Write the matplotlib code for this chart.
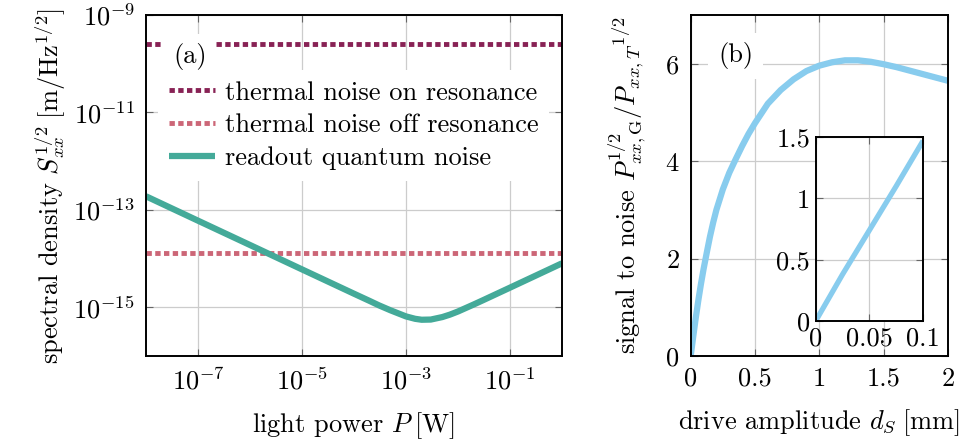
import matplotlib
matplotlib.use("Agg")
import matplotlib.pyplot as plt

plt.rcParams["font.family"] = "serif"
plt.rcParams["font.serif"] = ["cmr10"]
plt.rcParams["mathtext.fontset"] = "cm"
plt.rcParams["axes.formatter.use_mathtext"] = True
plt.rcParams["font.size"] = 19

# panel (a): noise levels
leistung = [1e-8, 1e-7, 1e-6, 1e-5, 1e-4, 2e-4, 3e-4, 5e-4, 1e-3, 1.5e-3, 2e-3,
            3e-3, 5e-3, 7e-3, 1e-2, 2e-2, 3e-2, 1e-1, 3e-1, 1.0]
kvantni_sum = [1.9e-13, 6.0e-14, 1.9e-14, 6.0e-15, 1.9e-15, 1.35e-15, 1.1e-15, 8.7e-16,
               6.5e-16, 5.8e-16, 5.55e-16, 5.6e-16, 6.3e-16, 7.07e-16, 8.2e-16, 1.14e-15,
               1.39e-15, 2.53e-15, 4.38e-15, 8.0e-15]
termicni_na_res = 2.6e-10
termicni_izven_res = 1.3e-14

# panel (b): signal to noise vs drive amplitude
amplituda = [0, 0.02, 0.04, 0.06, 0.08, 0.1, 0.125, 0.15, 0.175, 0.2, 0.25, 0.3, 0.35,
             0.4, 0.45, 0.5, 0.6, 0.7, 0.8, 0.9, 1.0, 1.1, 1.2, 1.3, 1.4, 1.5, 1.6,
             1.7, 1.8, 1.9, 2.0]
snr = [0, 0.4, 0.79, 1.15, 1.48, 1.78, 2.12, 2.45, 2.74, 3.0, 3.42, 3.76, 4.04,
       4.31, 4.56, 4.78, 5.18, 5.46, 5.68, 5.85, 5.96, 6.03, 6.07, 6.07, 6.04, 5.99, 5.93,
       5.86, 5.79, 5.72, 5.65]
amplituda_vstavek = [0, 0.025, 0.05, 0.075, 0.1]
snr_vstavek = [0, 0.38, 0.74, 1.1, 1.47]

vijolicna = "#882255"
roza = "#CC6677"
zelena = "#44AA99"
modra = "#88CCEE"
mreza = "#cccccc"


def okrasi(ax):
    ax.grid(True, color=mreza, lw=0.9)
    ax.set_axisbelow(True)
    ax.tick_params(which="both", direction="in", top=True, right=True,
                   color="#666666", length=5, width=0.8, pad=8)
    ax.tick_params(which="minor", length=0)
    for s in ax.spines.values():
        s.set_linewidth(1.4)


fig = plt.figure(figsize=(9.61, 4.40), dpi=100)

ax1 = fig.add_axes([0.1519, 0.1909, 0.4329, 0.775])
ax1.set_xscale("log")
ax1.set_yscale("log")
ax1.set_xlim(1e-8, 1)
ax1.set_ylim(1e-16, 1e-9)
ax1.axhline(termicni_na_res, color=vijolicna, lw=3.5, dashes=(1.1, 0.7),
            label="thermal noise on resonance")
ax1.axhline(termicni_izven_res, color=roza, lw=3.5, dashes=(1.1, 0.7),
            label="thermal noise off resonance")
ax1.plot(leistung, kvantni_sum, color=zelena, lw=4.5, solid_capstyle="butt",
         label="readout quantum noise")
ax1.set_xticks([1e-7, 1e-5, 1e-3, 1e-1])
ax1.set_yticks([1e-9, 1e-11, 1e-13, 1e-15])
okrasi(ax1)
ax1.set_xlabel(r"light power $P\;[\mathrm{W}]$", labelpad=12)
ax1.set_ylabel(r"spectral density $S_{xx}^{1/2}\;[\mathrm{m}/\mathrm{Hz}^{1/2}]$",
               labelpad=4)
leg = ax1.legend(loc="upper left", bbox_to_anchor=(0.029, 0.838), frameon=True,
                 framealpha=1, edgecolor="none", facecolor="white",
                 handlelength=1.75, handletextpad=0.38, labelspacing=0.34,
                 borderaxespad=0.0, fontsize=19)
ax1.text(0.065, 0.877, "(a)", transform=ax1.transAxes, ha="left", va="center",
         bbox=dict(facecolor="white", edgecolor="none", pad=7), zorder=5)

ax2 = fig.add_axes([0.7187, 0.1909, 0.2677, 0.775])
ax2.plot(amplituda, snr, color=modra, lw=4.5, solid_capstyle="butt")
ax2.set_xlim(0, 2)
ax2.set_ylim(0, 7)
ax2.set_xticks([0, 0.5, 1, 1.5, 2])
ax2.set_xticklabels(["0", "0.5", "1", "1.5", "2"])
ax2.set_yticks([0, 2, 4, 6])
okrasi(ax2)
ax2.set_xlabel(r"drive amplitude $d_S\;[\mathrm{mm}]$", labelpad=12)
ax2.set_ylabel(r"signal to noise $P_{xx,\mathrm{G}}^{1/2}/P_{xx,T}{}^{1/2}$", labelpad=12)
ax2.text(0.106, 0.88, "(b)", transform=ax2.transAxes, ha="left", va="center",
         bbox=dict(facecolor="white", edgecolor="none", pad=7), zorder=5)

ax3 = fig.add_axes([0.8488, 0.2705, 0.1117, 0.418])
ax3.plot(amplituda_vstavek, snr_vstavek, color=modra, lw=3.8, solid_capstyle="butt")
ax3.set_xlim(0, 0.1)
ax3.set_ylim(0, 1.5)
ax3.set_xticks([0, 0.05, 0.1])
ax3.set_xticklabels(["0", "0.05", "0.1"])
ax3.set_yticks([0, 0.5, 1, 1.5])
ax3.set_yticklabels(["0", "0.5", "1", "1.5"])
okrasi(ax3)
ax3.tick_params(pad=4)

fig.savefig("out.png", dpi=100)
